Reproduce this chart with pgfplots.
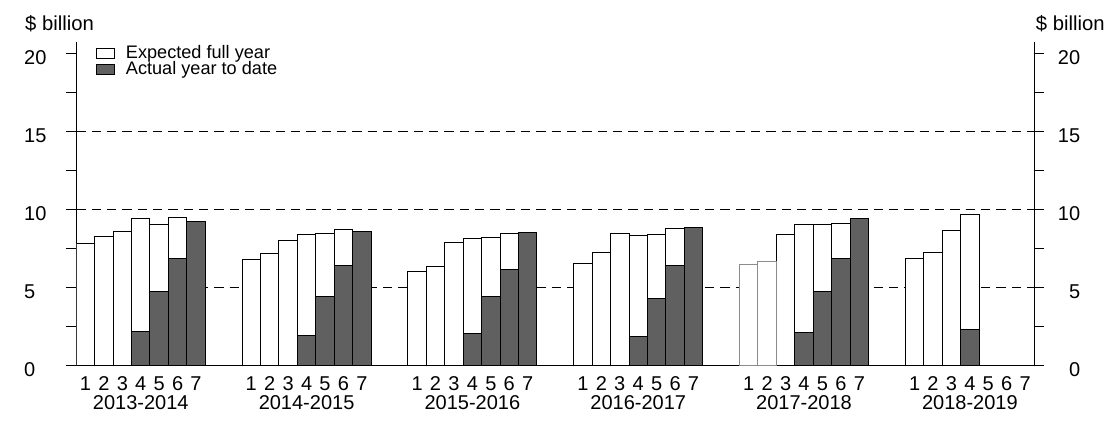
\documentclass[border=0pt]{standalone}
\usepackage{pgfplots}
\pgfplotsset{compat=1.18}
\usepackage{fontspec}
\setmainfont{Liberation Sans}
\definecolor{actual}{HTML}{606060}
\definecolor{edgegray}{HTML}{8C8C8C}
\begin{document}
\begin{tikzpicture}
\pgfplotsset{
  basestyle/.style={
    scale only axis, width=718.5pt, height=242.25pt,
    xmin=0.5, xmax=52.5, ymin=0, ymax=20.7,
    ytick={0,2.5,...,20},
    yticklabels={0,,5,,10,,15,,20},
    tick align=outside, major tick length=7.5pt,
    tick style={black, line width=0.75pt},
    axis line style={line width=0.75pt},
    ticklabel style={font=\fontsize{15}{18}\selectfont, inner sep=0pt},
  },
  mybar/.style={ybar, bar width=1, bar shift=0pt, line width=0.75pt,
    legend image code/.code={\draw[##1, line width=0.75pt] (0pt,-3.75pt) rectangle (13.5pt,3.75pt);}},
}
\begin{axis}[basestyle,
  axis x line*=bottom, axis y line*=left,
  yticklabel style={text width=16.7pt, align=left, xshift=-14.7pt, yshift=-3pt},
  xtick={1,2,3,4,5,6,7,10,11,12,13,14,15,16,19,20,21,22,23,24,25,28,29,30,31,32,33,34,37,38,39,40,41,42,43,46,47,48,49,50,51,52},
  xticklabels={1,2,3,4,5,6,7,1,2,3,4,5,6,7,1,2,3,4,5,6,7,1,2,3,4,5,6,7,1,2,3,4,5,6,7,1,2,3,4,5,6,7},
  xtick style={draw=none},
  xticklabel style={yshift=-0.5pt},
  extra x ticks={4,13,22,31,40,49},
  extra x tick labels={2013-2014,2014-2015,2015-2016,2016-2017,2017-2018,2018-2019},
  extra x tick style={tick style={draw=none}, tick label style={yshift=-14.5pt}},
  legend style={at={(axis description cs:0,1)}, anchor=north west, xshift=15pt, yshift=-2.25pt,
    draw=none, fill=none, inner sep=0pt, outer sep=0pt,
    font=\fontsize{13.6}{16}\selectfont, row sep=0pt,
    nodes={inner sep=0pt, text height=9.5pt, text depth=2.5pt},
    /tikz/every odd column/.append style={column sep=8pt}},
  legend cell align=left,
]
% dashed reference lines behind the bars
\addplot[black, line width=0.75pt, dash pattern=on 7pt off 4.5pt, forget plot] coordinates {(0.5,5) (52.5,5)};
\addplot[black, line width=0.75pt, dash pattern=on 7pt off 4.5pt, forget plot] coordinates {(0.5,10) (52.5,10)};
\addplot[black, line width=0.75pt, dash pattern=on 7pt off 4.5pt, forget plot] coordinates {(0.5,15) (52.5,15)};
% expected full year
\addplot[mybar, fill=white, draw=black] coordinates {
  (1,7.82) (2,8.27) (3,8.59) (4,9.42) (5,9.04) (6,9.49)
  (10,6.81) (11,7.18) (12,8.03) (13,8.40) (14,8.46) (15,8.72)
  (19,6.03) (20,6.35) (21,7.88) (22,8.14) (23,8.21) (24,8.46)
  (28,6.54) (29,7.24) (30,8.46) (31,8.33) (32,8.40) (33,8.78)
  (39,8.40) (40,9.04) (41,9.04) (42,9.10)
  (46,6.86) (47,7.24) (48,8.61) (49,9.68)
};
\addlegendentry{Expected full year}
\addplot[mybar, fill=white, draw=edgegray, forget plot] coordinates {(37,6.47) (38,6.67)};
% actual year to date
\addplot[mybar, fill=actual, draw=black] coordinates {
  (4,2.18) (5,4.74) (6,6.86) (7,9.25)
  (13,1.92) (14,4.44) (15,6.41) (16,8.59)
  (22,2.05) (23,4.42) (24,6.15) (25,8.53)
  (31,1.86) (32,4.29) (33,6.41) (34,8.85)
  (40,2.12) (41,4.74) (42,6.86) (43,9.42)
  (49,2.31)
};
\addlegendentry{Actual year to date}
\end{axis}
\begin{axis}[basestyle,
  axis x line=none, axis y line*=right,
  yticklabel style={text width=16.7pt, align=right, xshift=10pt, yshift=-3pt},
]
\addplot[draw=none] coordinates {(1,0)};
\end{axis}
\node[anchor=base west, inner sep=0pt, font=\fontsize{15.2}{18}\selectfont] at (-38.5pt,251pt) {\$ billion};
\node[anchor=base west, inner sep=0pt, font=\fontsize{15.2}{18}\selectfont] at (719.5pt,251pt) {\$ billion};
\path (-57.2pt,-46.3pt) rectangle (782pt,274pt);
\end{tikzpicture}
\end{document}
